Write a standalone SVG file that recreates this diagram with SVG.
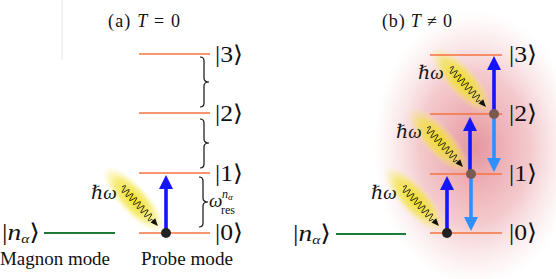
<svg xmlns="http://www.w3.org/2000/svg" xmlns:xlink="http://www.w3.org/1999/xlink" width="556" height="279" viewBox="0 0 556 279">
<style>
.lvl{stroke:#f4733f;stroke-width:1.6;fill:none}
.mag{stroke:#1f7a3a;stroke-width:2;fill:none}
.t{font-family:"Liberation Serif","DejaVu Serif",serif;fill:#111}
.ket{font-size:23px}
.it{font-style:italic}
.up{stroke:#1414ff;stroke-width:3.6;fill:none}
.dn{stroke:#2f8fff;stroke-width:3.6;fill:none}
.brace{stroke:#111;stroke-width:1.2;fill:none}
</style>
<defs>
<marker id="ahUp" markerUnits="userSpaceOnUse" markerWidth="16" markerHeight="14" refX="0" refY="7" orient="auto" overflow="visible">
<path d="M0,0 L14,7 L0,14 Z" fill="#1414ff"/>
</marker>
<marker id="ahDn" markerUnits="userSpaceOnUse" markerWidth="16" markerHeight="14" refX="0" refY="7" orient="auto" overflow="visible">
<path d="M0,0 L14,7 L0,14 Z" fill="#2f8fff"/>
</marker>
<radialGradient id="yel" cx="0.5" cy="0.5" r="0.5">
<stop offset="0" stop-color="#f0de10" stop-opacity="1"/>
<stop offset="0.6" stop-color="#f3e440" stop-opacity="0.65"/>
<stop offset="1" stop-color="#f8f080" stop-opacity="0"/>
</radialGradient>
<radialGradient id="red" cx="0.5" cy="0.5" r="0.5">
<stop offset="0" stop-color="#de7a85" stop-opacity="0.8"/>
<stop offset="0.55" stop-color="#e8959c" stop-opacity="0.5"/>
<stop offset="1" stop-color="#f4c0c4" stop-opacity="0"/>
</radialGradient>
<g id="photon">
<ellipse cx="17" cy="0" rx="43" ry="15" fill="url(#yel)"/>
<path d="M0,0 q1.375,-7 2.75,0 t2.75,0 t2.75,0 t2.75,0 t2.75,0 t2.75,0 t2.75,0 t2.75,0 t2.75,0 t2.75,0 t2.75,0 t2.75,0 t2.75,0 t2.75,0 t2.75,0 t2.75,0 L46,0" stroke="#222" stroke-width="0.9" fill="none"/>
<path d="M53,0 L45.5,-3.2 L45.5,3.2 Z" fill="#111"/>
</g>
</defs>
<line x1="62" y1="0" x2="62" y2="60" stroke="#e6e6e6" stroke-width="1"/>
<ellipse cx="475" cy="148" rx="102" ry="138" fill="url(#red)"/>
<g id="title-a"><text class="t" x="108" y="27" font-size="18" textLength="72" lengthAdjust="spacing">(a) <tspan class="it">T</tspan> = 0</text></g>
<g id="title-b"><text class="t" x="382" y="27" font-size="18" textLength="70" lengthAdjust="spacing">(b) <tspan class="it">T</tspan> ≠ 0</text></g>
<g id="photons-a"><use xlink:href="#photon" transform="translate(122,187) rotate(47.3)"/></g>
<g id="photons-b">
<use xlink:href="#photon" transform="translate(403,187) rotate(47.3)"/>
<use xlink:href="#photon" transform="translate(427,128) rotate(47.3)"/>
<use xlink:href="#photon" transform="translate(450,68) rotate(47.3)"/>
</g>
<g id="a-level3"><line class="lvl" x1="139" y1="54" x2="210" y2="54"/><text class="t ket" x="215" y="62" textLength="28" lengthAdjust="spacingAndGlyphs">|3⟩</text></g>
<g id="a-level2"><line class="lvl" x1="139" y1="113" x2="210" y2="113"/><text class="t ket" x="215" y="121" textLength="28" lengthAdjust="spacingAndGlyphs">|2⟩</text></g>
<g id="a-level1"><line class="lvl" x1="139" y1="173" x2="210" y2="173"/><text class="t ket" x="215" y="181" textLength="28" lengthAdjust="spacingAndGlyphs">|1⟩</text></g>
<g id="a-level0"><line class="lvl" x1="139" y1="233" x2="210" y2="233"/><text class="t ket" x="215" y="240" textLength="28" lengthAdjust="spacingAndGlyphs">|0⟩</text></g>
<g id="a-magnon"><line class="mag" x1="44" y1="233" x2="115" y2="233"/><text class="t ket" x="2" y="240" font-size="22" textLength="38" lengthAdjust="spacingAndGlyphs">|<tspan class="it">n</tspan><tspan class="it" font-size="13" dy="3">α</tspan><tspan dy="-3">⟩</tspan></text></g>
<g id="a-braces">
<path class="brace" d="M200,57 Q204,57 204,61 L204,78 Q204,82 209,82 Q204,82 204,86 L204,103 Q204,107 200,107"/>
<path class="brace" d="M200,119 Q204,119 204,123 L204,139 Q204,143 209,143 Q204,143 204,147 L204,164 Q204,168 200,168"/>
<path class="brace" d="M199,177 Q203,177 203,181 L203,198 Q203,202 208,202 Q203,202 203,206 L203,223 Q203,227 199,227"/>
<text class="t" x="209" y="207" font-size="19"><tspan class="it">ω</tspan></text>
<text class="t it" x="222" y="198" font-size="12">n<tspan font-size="9" dy="2">α</tspan></text>
<text class="t" x="221" y="214" font-size="12">res</text>
</g>
<g id="a-labels"><text class="t" x="0" y="265" font-size="18" textLength="110" lengthAdjust="spacingAndGlyphs">Magnon mode</text><text class="t" x="141" y="265" font-size="18" textLength="92" lengthAdjust="spacingAndGlyphs">Probe mode</text></g>
<g id="b-level3"><line class="lvl" x1="430" y1="55" x2="502" y2="55"/><text class="t ket" x="509" y="62" textLength="28" lengthAdjust="spacingAndGlyphs">|3⟩</text></g>
<g id="b-level2"><line class="lvl" x1="430" y1="114" x2="502" y2="114"/><text class="t ket" x="509" y="121" textLength="28" lengthAdjust="spacingAndGlyphs">|2⟩</text></g>
<g id="b-level1"><line class="lvl" x1="430" y1="174" x2="502" y2="174"/><text class="t ket" x="509" y="181" textLength="28" lengthAdjust="spacingAndGlyphs">|1⟩</text></g>
<g id="b-level0"><line class="lvl" x1="430" y1="233" x2="502" y2="233"/><text class="t ket" x="509" y="240" textLength="28" lengthAdjust="spacingAndGlyphs">|0⟩</text></g>
<g id="b-magnon"><line class="mag" x1="336" y1="234" x2="406" y2="234"/><text class="t ket" x="293" y="241" font-size="22" textLength="38" lengthAdjust="spacingAndGlyphs">|<tspan class="it">n</tspan><tspan class="it" font-size="13" dy="3">α</tspan><tspan dy="-3">⟩</tspan></text></g>
<g id="connectors">
<line class="up" x1="166" y1="233" x2="166" y2="189" marker-end="url(#ahUp)"/>
<line class="up" x1="447" y1="233" x2="447" y2="190" marker-end="url(#ahUp)"/>
<line class="up" x1="470" y1="174" x2="470" y2="131" marker-end="url(#ahUp)"/>
<line class="up" x1="494" y1="114" x2="494" y2="70" marker-end="url(#ahUp)"/>
<line class="dn" x1="471" y1="174" x2="471" y2="217" marker-end="url(#ahDn)"/>
<line class="dn" x1="494" y1="114" x2="494" y2="158" marker-end="url(#ahDn)"/>
</g>
<g id="a-dot0"><circle cx="166" cy="233" r="5" fill="#222"/></g>
<g id="b-dot0"><circle cx="447" cy="233" r="5" fill="#222"/></g>
<g id="b-dot1"><circle cx="471" cy="174" r="5" fill="#7a5a4e"/></g>
<g id="b-dot2"><circle cx="494" cy="114" r="5" fill="#7a5a4e"/></g>
<g id="hw-labels">
<text class="t it" x="91" y="199" font-size="19">ℏω</text>
<text class="t it" x="371" y="199" font-size="19">ℏω</text>
<text class="t it" x="396" y="138" font-size="19">ℏω</text>
<text class="t it" x="418" y="79" font-size="19">ℏω</text>
</g>
</svg>
